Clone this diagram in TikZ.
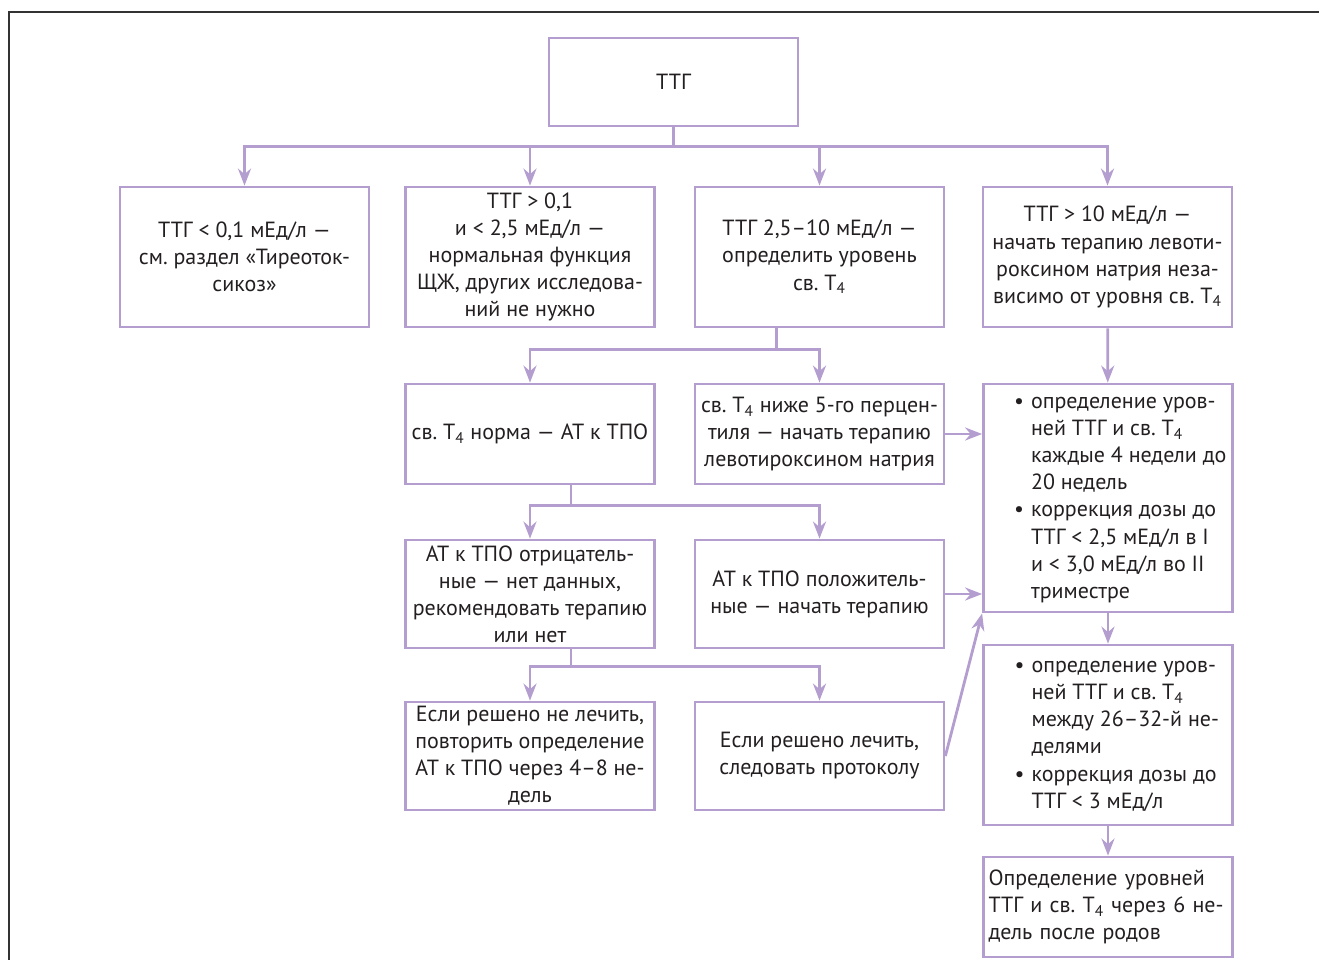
\documentclass[tikz,border=0pt]{standalone}
\usepackage{fontspec}
\setmainfont{PT Sans}
\usepackage{tikz}
\usetikzlibrary{calc,positioning,arrows.meta}
\definecolor{lilac}{RGB}{180,158,208}
\definecolor{ink}{RGB}{35,31,32}
\frenchspacing

\begin{document}
\begin{tikzpicture}[x=0.02cm,y=-0.02cm,
    box/.style={draw=lilac,line width=1.6pt,text=ink,align=center,inner sep=2pt,minimum width=4.98cm,font=\fontsize{12.5}{15.4}\selectfont},
    arr/.style={draw=lilac,line width=1.6pt,-{Stealth[length=0.34cm,width=0.26cm]}}]
  \useasboundingbox (0,0) rectangle (1319,960);
  \draw[line width=1pt,black!80] (9,960) -- (9,12) -- (1319,12);

  \node[box,minimum height=1.76cm] (ttg) at (673.5,82) {ТТГ};

  \node[box,minimum height=2.8cm] (a) at (244.5,257) {ТТГ < 0,1 мЕд/л —\\см. раздел «Тиреоток-\\сикоз»};
  \node[box,minimum height=2.8cm] (b) at (530,257) {ТТГ > 0,1\\и < 2,5 мЕд/л —\\нормальная функция\\ЩЖ, других исследова-\\ний не нужно};
  \node[box,minimum height=2.8cm] (c) at (819.5,257) {ТТГ 2,5–10 мЕд/л —\\определить уровень\\св. T\textsubscript{4}};
  \node[box,minimum height=2.8cm] (d) at (1107.5,257) {ТТГ > 10 мЕд/л —\\начать терапию левоти-\\роксином натрия неза-\\висимо от уровня св. T\textsubscript{4}};

  \node[box,minimum height=2cm] (e) at (530,434) {св. T\textsubscript{4} норма — АТ к ТПО};
  \node[box,minimum height=2cm] (f) at (819.5,434) {св. T\textsubscript{4} ниже 5-го перцен-\\тиля — начать терапию\\левотироксином натрия};
  \node[box,minimum height=4.56cm,align=left] (g) at (1108,498) {\hspace*{14pt}\begin{tabular}{@{}l@{\hspace{4pt}}l@{}}
      \textbullet & определение уров-\\
                  & ней ТТГ и св. T\textsubscript{4}\\
                  & каждые 4 недели до\\
                  & 20 недель\\
      \textbullet & коррекция дозы до\\
                  & ТТГ < 2,5 мЕд/л в I\\
                  & и < 3,0 мЕд/л во II\\
                  & триместре
    \end{tabular}};

  \node[box,minimum height=2.16cm] (h) at (530,594) {АТ к ТПО отрицатель-\\ные — нет данных,\\рекомендовать терапию\\или нет};
  \node[box,minimum height=2.16cm] (i) at (819.5,594) {АТ к ТПО положитель-\\ные — начать терапию};

  \node[box,minimum height=2.16cm] (j) at (530,756) {Если решено не лечить,\\повторить определение\\АТ к ТПО через 4–8 не-\\дель};
  \node[box,minimum height=2.16cm] (k) at (819.5,756) {Если решено лечить,\\следовать протоколу};

  \node[box,minimum height=3.6cm,align=left] (l) at (1108,735) {\hspace*{10pt}\begin{tabular}{@{}l@{\hspace{4pt}}l@{}}
      \textbullet & определение уров-\\
                  & ней ТТГ и св. T\textsubscript{4}\\
                  & между 26–32-й не-\\
                  & делями\\
      \textbullet & коррекция дозы до\\
                  & ТТГ < 3 мЕд/л
    \end{tabular}};
  \node[box,minimum height=2cm,align=left,text width=4.78cm,inner sep=0.1cm] (m) at (1108,907) {Определение уровней\\ТТГ и св. T\textsubscript{4} через 6 не-\\дель после родов};

  \draw[arr] (ttg.south) -- ++(0,19) -| (a.north);
  \draw[arr] (ttg.south) -- ++(0,19) -| (b.north);
  \draw[arr] (ttg.south) -- ++(0,19) -| (c.north);
  \draw[arr] (ttg.south) -- ++(0,19) -| (d.north);

  \draw[arr] ([xshift=-0.86cm]c.south) -- ++(0,21) -| (e.north);
  \draw[arr] ([xshift=-0.86cm]c.south) -- ++(0,21) -| (f.north);
  \draw[arr] ([xshift=0.82cm]e.south) -- ++(0,20) -| (h.north);
  \draw[arr] ([xshift=0.82cm]e.south) -- ++(0,20) -| (i.north);
  \draw[arr] ([xshift=0.82cm]h.south) -- ++(0,17) -| (j.north);
  \draw[arr] ([xshift=0.82cm]h.south) -- ++(0,17) -| (k.north);

  \draw[arr] (d) -- (g);
  \draw[arr] (f.east) -- (f.east -| g.west);
  \draw[arr] (i.east) -- (i.east -| g.west);
  \draw[arr] (k.east) -- (g.south west);
  \draw[arr] (g) -- (l);
  \draw[arr] (l) -- (m);
\end{tikzpicture}
\end{document}
